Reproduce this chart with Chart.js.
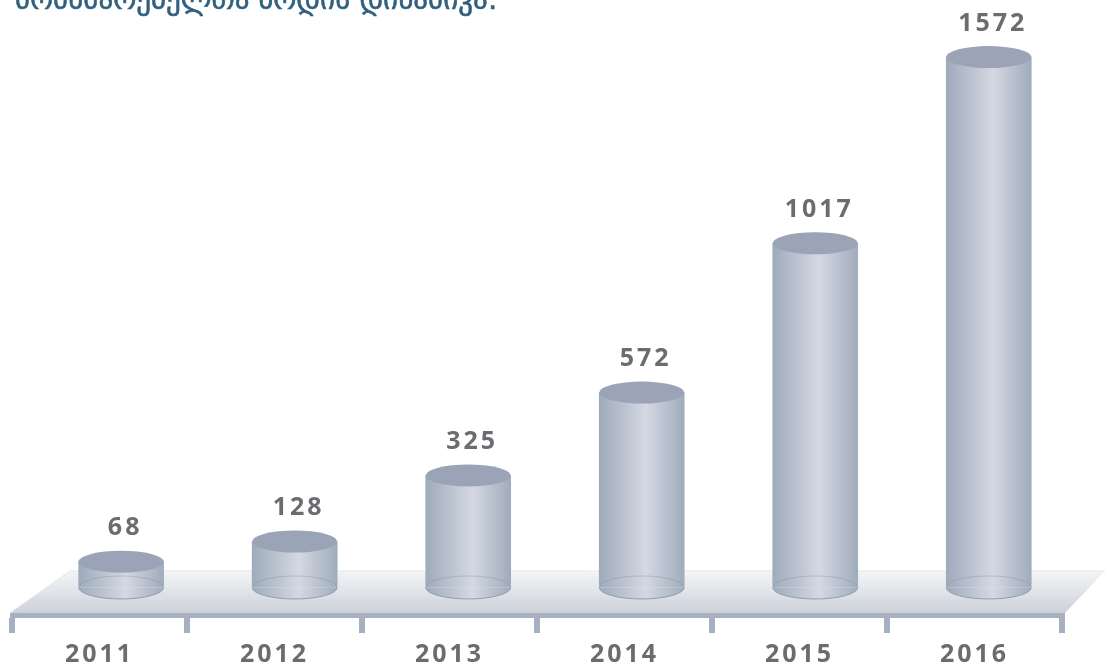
<!DOCTYPE html>
<html>
<head>
<meta charset="utf-8">
<script src="https://cdn.jsdelivr.net/npm/chart.js@4"></script>
<style>
  html, body { margin: 0; padding: 0; background: #fff; overflow: hidden; }
  #wrap { position: relative; width: 1105px; height: 668px; overflow: hidden; }
  #title { position: absolute; left: 15px; top: -18px; margin: 0; white-space: nowrap;
           font: normal 29px "DejaVu Sans", sans-serif; color: #31607f; line-height: 34px; -webkit-text-stroke: 0.6px #31607f; }
  canvas { display: block; }
</style>
</head>
<body>
<div id="wrap">
  <h1 id="title">მომხმარებელთა ზრდის დინამიკა:</h1>
  <canvas id="cylChart" width="1105" height="681"></canvas>
</div>
<script>
const years = ['2011', '2012', '2013', '2014', '2015', '2016'];
const counts = [68, 128, 325, 572, 1017, 1572];

const textColor = '#6b6c70';
const labelFont = 'bold 25px "Open Sans", sans-serif';

// horizontal shading shared by the bar body and the round base
function cylinderFill(ctx, left, right) {
    const g = ctx.createLinearGradient(left, 0, right, 0);
    g.addColorStop(0, '#9fabba');
    g.addColorStop(0.55, '#d4d8e3');
    g.addColorStop(1, '#a0acbb');
    return g;
}

// the slab the cylinders stand on, hung off the chart area
const floorPlugin = {
    id: 'floor',
    beforeDatasetsDraw(chart) {
        const ctx = chart.ctx;
        const { left, right, bottom } = chart.chartArea;
        const front = bottom - 2, back = bottom - 44;
        const g = ctx.createLinearGradient(0, back, 0, front);
        g.addColorStop(0, '#f4f5f7');
        g.addColorStop(1, '#ccd1d9');
        ctx.save();
        ctx.beginPath();
        ctx.moveTo(left - 2, front);
        ctx.lineTo(left + 58, back);
        ctx.lineTo(right + 43, back);
        ctx.lineTo(right + 3, front);
        ctx.closePath();
        ctx.fillStyle = g;
        ctx.fill();
        ctx.strokeStyle = '#e4e6ea';
        ctx.lineWidth = 1;
        ctx.beginPath();
        ctx.moveTo(left - 2, front);
        ctx.lineTo(left + 58, back);
        ctx.lineTo(right + 43, back);
        ctx.stroke();
        ctx.restore();
    }
};

// round ends of each bar plus the value above it
const cylinderPlugin = {
    id: 'cylinder',
    afterDatasetsDraw(chart) {
        const ctx = chart.ctx;
        chart.getDatasetMeta(0).data.forEach((bar, i) => {
            const rx = bar.width / 2;
            const baseY = bar.base + 3;
            const fill = cylinderFill(ctx, bar.x - rx, bar.x + rx);
            ctx.save();
            // bottom end, the bar stops just short of the ellipse centre
            ctx.fillStyle = fill;
            ctx.fillRect(bar.x - rx, bar.base - 1, bar.width, baseY - bar.base + 1);
            ctx.beginPath();
            ctx.ellipse(bar.x, baseY, rx, 11.5, 0, 0, Math.PI);
            ctx.fill();
            ctx.strokeStyle = '#8e9db3';
            ctx.lineWidth = 1;
            ctx.stroke();
            // faint hidden edge of the base
            ctx.beginPath();
            ctx.ellipse(bar.x, baseY, rx, 11.5, 0, Math.PI, Math.PI * 2);
            ctx.strokeStyle = 'rgba(125,135,150,0.35)';
            ctx.stroke();
            // top end
            ctx.beginPath();
            ctx.ellipse(bar.x, bar.y, rx, 11, 0, 0, Math.PI * 2);
            ctx.fillStyle = '#9aa4b6';
            ctx.fill();
            // value
            ctx.font = labelFont;
            ctx.letterSpacing = '3px';
            ctx.fillStyle = textColor;
            ctx.textAlign = 'center';
            ctx.textBaseline = 'middle';
            ctx.fillText(counts[i], bar.x + 4, bar.y - 33.5);
            ctx.restore();
        });
    }
};

// tick labels have no letter spacing option, so set it on the context
const spacingPlugin = {
    id: 'spacing',
    beforeDraw(chart) { chart.ctx.letterSpacing = '3px'; }
};

new Chart(document.getElementById('cylChart'), {
    type: 'bar',
    plugins: [spacingPlugin, floorPlugin, cylinderPlugin],
    data: {
        labels: years,
        datasets: [{
            data: counts.map((v, i) => ({ x: i, y: v })),
            xAxisID: 'xBars',
            barThickness: 85,
            borderWidth: 0,
            backgroundColor(c) {
                const axis = c.chart.scales.xBars;
                const cx = axis ? axis.getPixelForValue(c.dataIndex) : NaN;
                if (!Number.isFinite(cx)) return '#b5bdcb'; // layout not done yet
                return cylinderFill(c.chart.ctx, cx - 42.5, cx + 42.5);
            }
        }]
    },
    options: {
        responsive: false,
        animation: false,
        layout: { padding: { left: 12, right: 43, top: 20, bottom: 4 } },
        plugins: { legend: { display: false }, tooltip: { enabled: false }, title: { display: false } },
        scales: {
            x: {
                type: 'category',
                position: 'bottom',
                offset: true,
                grid: { offset: true, color: '#a6b0c0', lineWidth: 6, drawOnChartArea: false, drawTicks: true, tickLength: 18 },
                border: { color: '#a6b0c0', width: 5 },
                ticks: { color: textColor, font: { family: '"Open Sans", sans-serif', size: 25, weight: 'bold' }, padding: 7, maxRotation: 0 }
            },
            // bars sit on their own hidden axis: they are set in perspective and drift from the labels
            xBars: { type: 'linear', display: false, offset: false, min: -0.629, max: 5.422 },
            y: { display: false, min: -91, max: 1682.5 }
        }
    }
});
</script>
</body>
</html>
